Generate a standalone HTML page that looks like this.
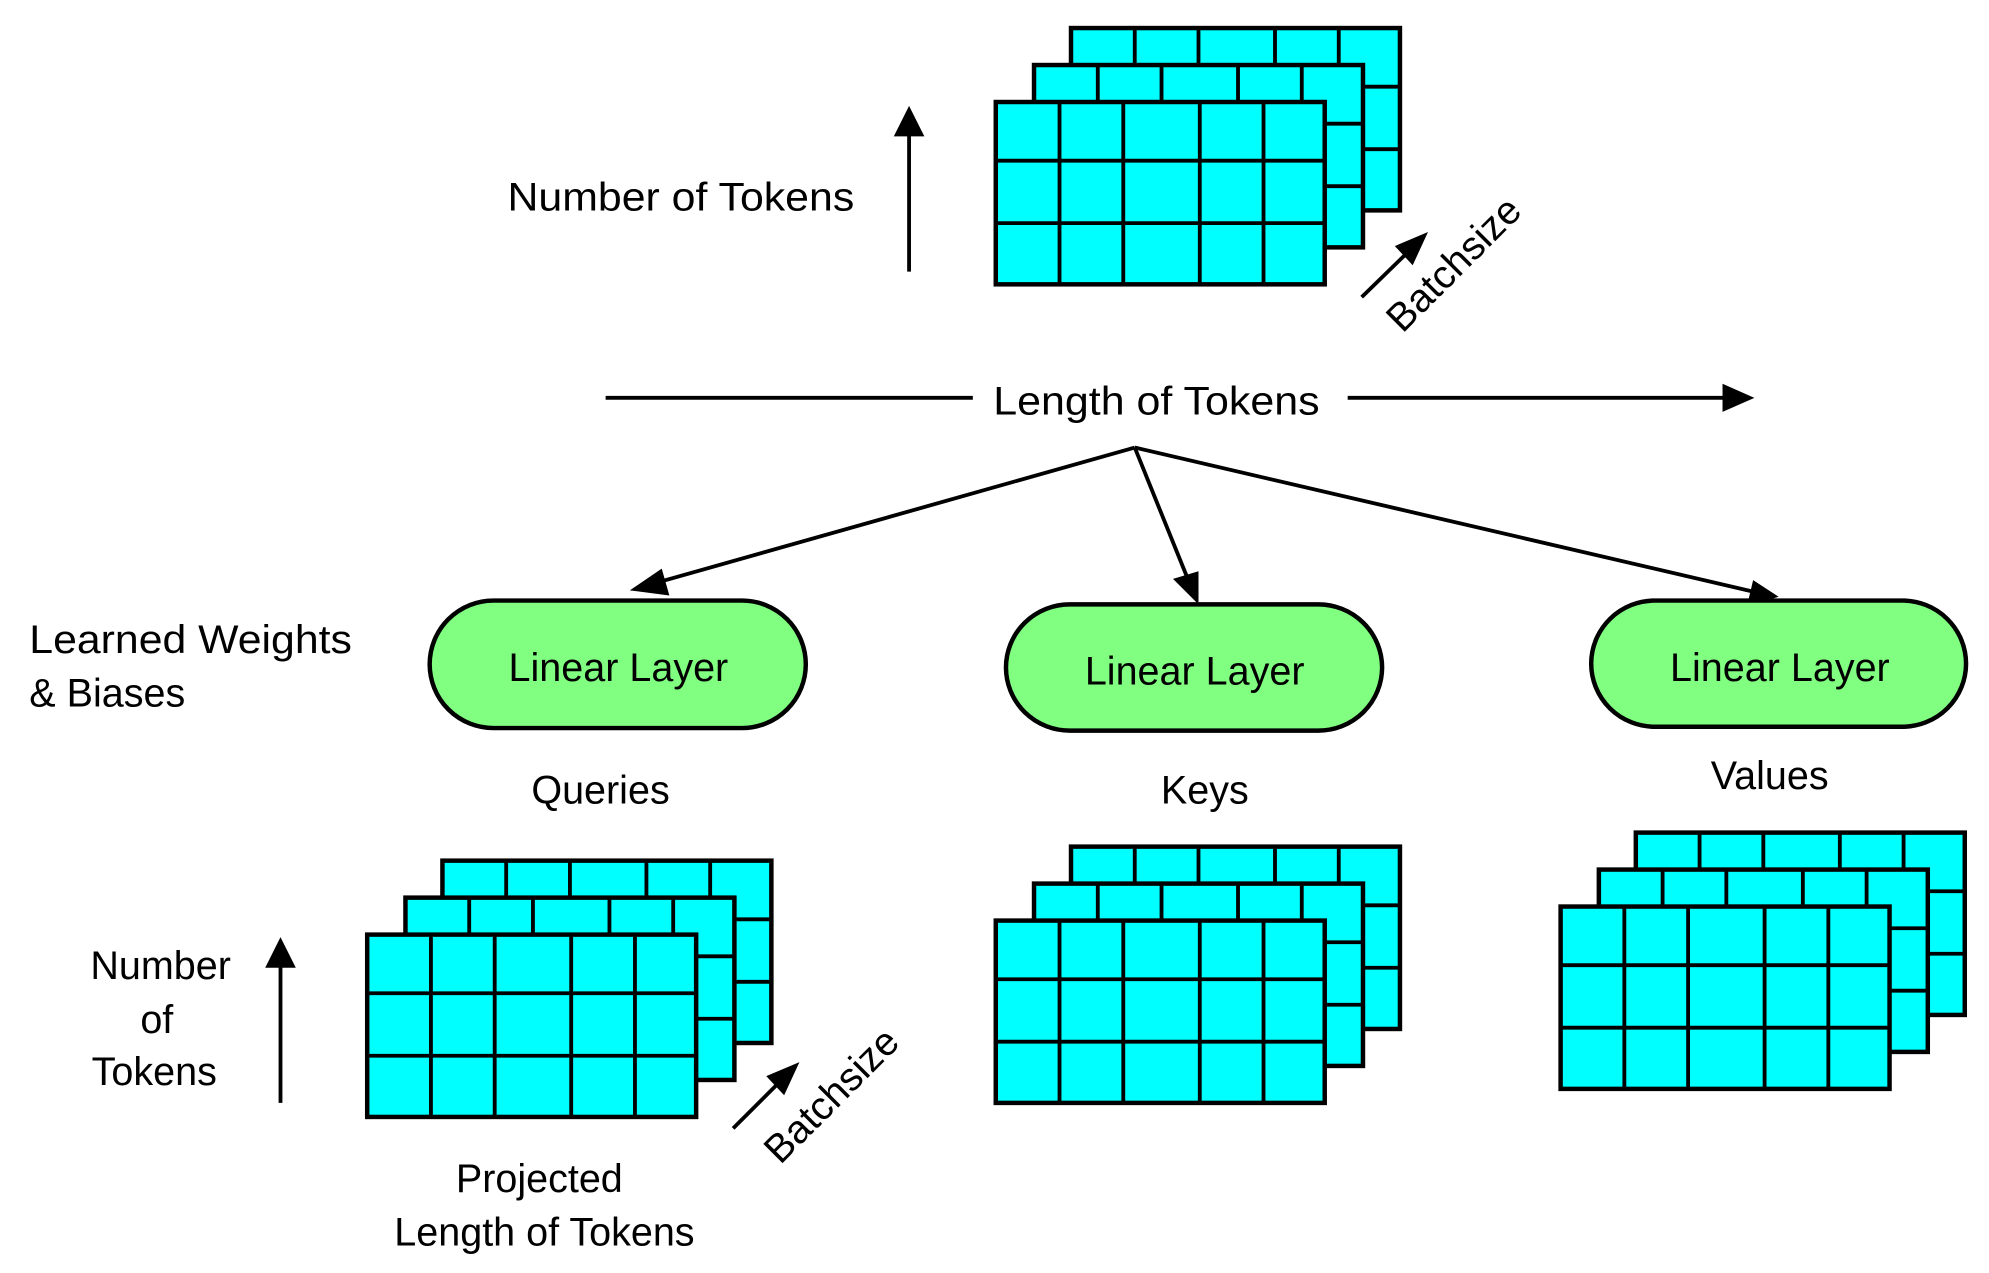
<!DOCTYPE html>
<html><head><meta charset="utf-8"><style>
html,body{margin:0;padding:0;background:#fff;}
svg{display:block;}
text{font-family:"Liberation Sans",Arial,sans-serif;fill:#000;}
</style></head><body>
<svg width="1989" height="1273" viewBox="0 0 1560 998.4" preserveAspectRatio="none" xmlns="http://www.w3.org/2000/svg">
<defs>
<marker id="ah" markerWidth="10" markerHeight="8" refX="9" refY="4" orient="auto" markerUnits="userSpaceOnUse" viewBox="0 0 10 8">
</marker>
<g id="layer">
<rect x="0" y="0" width="258" height="143" fill="#00ffff" stroke="#000" stroke-width="3.5"/>
<line x1="50" y1="0" x2="50" y2="143" stroke="#000" stroke-width="3"/>
<line x1="100" y1="0" x2="100" y2="143" stroke="#000" stroke-width="3"/>
<line x1="160" y1="0" x2="160" y2="143" stroke="#000" stroke-width="3"/>
<line x1="210" y1="0" x2="210" y2="143" stroke="#000" stroke-width="3"/>
<line x1="0" y1="46" x2="258" y2="46" stroke="#000" stroke-width="3"/>
<line x1="0" y1="95" x2="258" y2="95" stroke="#000" stroke-width="3"/>
</g>
<g id="stack">
<use href="#layer" x="59" y="-58"/>
<use href="#layer" x="30" y="-29"/>
<use href="#layer" x="0" y="0"/>
</g>
</defs>

<!-- stacks -->
<use href="#stack" x="781" y="80"/>
<use href="#stack" x="288" y="733"/>
<use href="#stack" x="781" y="722"/>
<use href="#stack" x="1224" y="711"/>

<!-- arrows -->
<g stroke="#000" stroke-width="3" fill="none">
<line x1="713" y1="213" x2="713" y2="104"/>
<line x1="220" y1="865" x2="220" y2="756"/>
<line x1="475" y1="312" x2="763" y2="312"/>
<line x1="1057" y1="312" x2="1355" y2="312"/>
<line x1="1068" y1="233" x2="1105" y2="197"/>
<line x1="575" y1="885" x2="612" y2="848"/>
<line x1="890" y1="351" x2="515" y2="457"/>
<line x1="890" y1="351" x2="932" y2="455"/>
<line x1="890" y1="351" x2="1375" y2="464"/>
</g>
<g fill="#000">
<polygon points="713,83 701,107 725,107"/>
<polygon points="220,735 208,759 232,759"/>
<polygon points="1376,312 1351,301 1351,323"/>
<polygon points="1120,182 1094,193 1108,208"/>
<polygon points="627,833 601,844 615,859"/>
<polygon points="494,463 519,446 525,467"/>
<polygon points="940,474 920,454 940,448"/>
<polygon points="1395,468 1370,476 1375,455"/>
</g>

<!-- pills -->
<g fill="#80ff80" stroke="#000" stroke-width="3.5">
<rect x="337" y="471" width="295" height="100" rx="50" ry="50"/>
<rect x="789" y="474" width="295" height="99" rx="50" ry="50"/>
<rect x="1248" y="471" width="294" height="99" rx="50" ry="50"/>
</g>

<g font-size="31">
<text x="485" y="534" text-anchor="middle">Linear Layer</text>
<text x="937" y="537" text-anchor="middle">Linear Layer</text>
<text x="1396" y="534" text-anchor="middle">Linear Layer</text>

<text x="398" y="165" textLength="272" lengthAdjust="spacingAndGlyphs">Number of Tokens</text>
<text x="779" y="325" textLength="256" lengthAdjust="spacingAndGlyphs">Length of Tokens</text>
<text x="23" y="512" textLength="253" lengthAdjust="spacingAndGlyphs">Learned Weights</text>
<text x="23" y="554">&amp; Biases</text>
<text x="471" y="630" text-anchor="middle">Queries</text>
<text x="945" y="630" text-anchor="middle">Keys</text>
<text x="1388" y="619" text-anchor="middle">Values</text>
<text x="126" y="768" text-anchor="middle">Number</text>
<text x="123" y="810" text-anchor="middle">of</text>
<text x="121" y="851" text-anchor="middle">Tokens</text>
<text x="423" y="935" text-anchor="middle">Projected</text>
<text x="427" y="977" text-anchor="middle">Length of Tokens</text>
<text transform="translate(1100,262) rotate(-45)">Batchsize</text>
<text transform="translate(612,914) rotate(-45)">Batchsize</text>
</g>
</svg>
</body></html>
